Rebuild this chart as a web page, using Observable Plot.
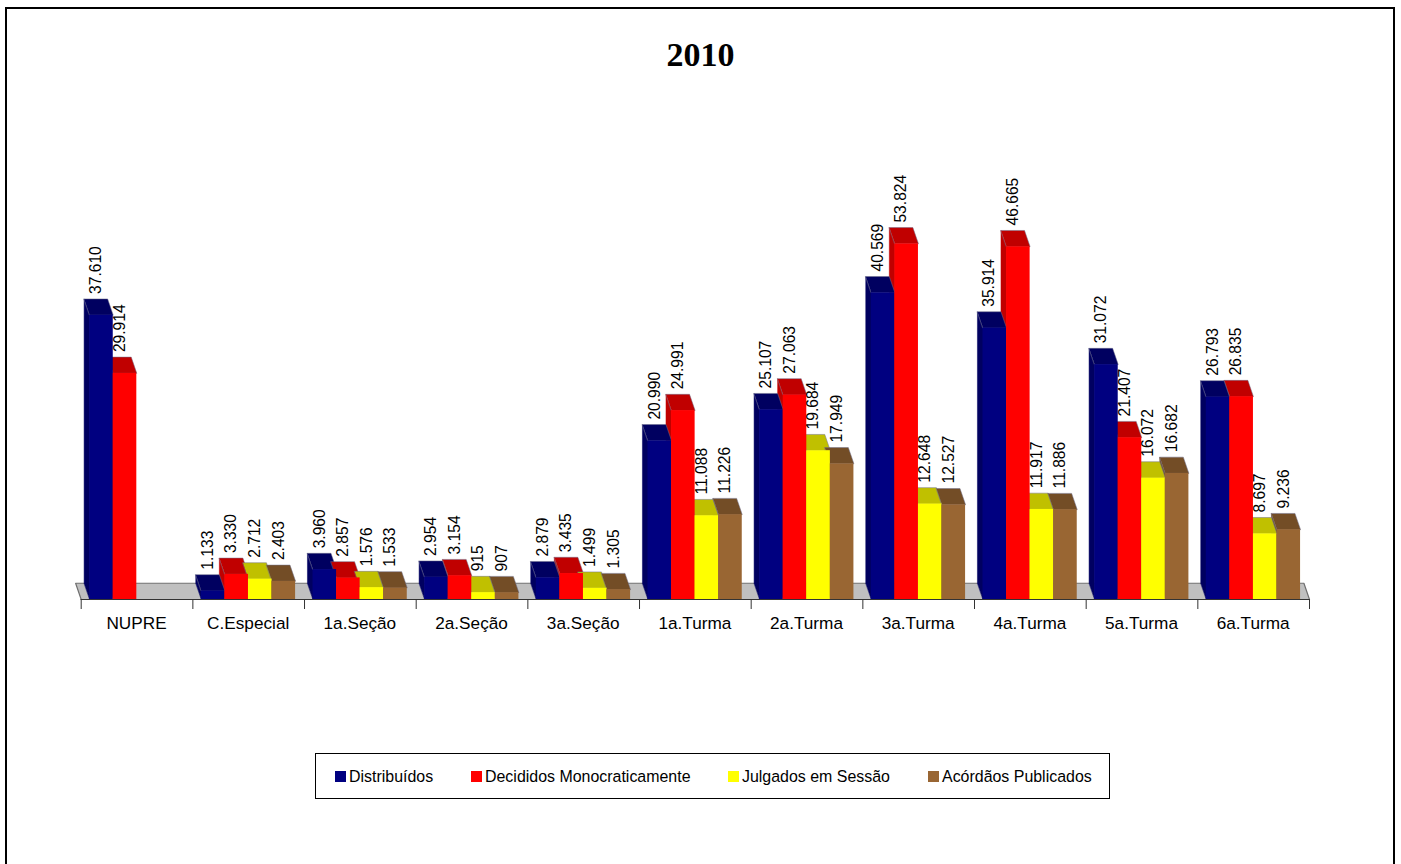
<!DOCTYPE html>
<html lang="pt">
<head>
<meta charset="utf-8">
<script src="https://cdn.jsdelivr.net/npm/d3@7"></script>
<script src="https://cdn.jsdelivr.net/npm/@observablehq/plot@0.6"></script>
<style>
  html, body { margin: 0; padding: 0; background: #fff; overflow: hidden; }
  #page { position: relative; width: 1401px; height: 864px; overflow: hidden; font-family: "Liberation Sans", Arial, sans-serif; }
  #page svg { position: absolute; left: 0; top: 0; }
  #border { position: absolute; left: 5px; top: 7px; width: 1386px; height: 900px; border: 2px solid #000; }
  #title { position: absolute; left: 0; width: 1401px; top: 35.5px; text-align: center; font: bold 34px "Liberation Serif", "Times New Roman", serif; color: #000; }
  #legend { position: absolute; left: 315px; top: 753px; width: 793px; height: 44px; border: 1px solid #000; background: #fff; }
  .item { position: absolute; top: 0; height: 44px; line-height: 46px; font-size: 15.95px; color: #000; white-space: nowrap; }
  .item i { position: absolute; left: 0; top: 17px; width: 11px; height: 11px; }
  .item span { position: absolute; left: 14px; top: 0; }
</style>
</head>
<body>
<div id="page">
  <div id="border"></div>
  <div id="title">2010</div>
  <div id="chart"></div>
  <div id="legend"></div>
</div>
<script>
const categories = ["NUPRE", "C.Especial", "1a.Seção", "2a.Seção", "3a.Seção", "1a.Turma", "2a.Turma", "3a.Turma", "4a.Turma", "5a.Turma", "6a.Turma"];
const distribuidos = [37610, 1133, 3960, 2954, 2879, 20990, 25107, 40569, 35914, 31072, 26793];
const decididos = [29914, 3330, 2857, 3154, 3435, 24991, 27063, 53824, 46665, 21407, 26835];
const julgados = [null, 2712, 1576, 915, 1499, 11088, 19684, 12648, 11917, 16072, 8697];
const acordaos = [null, 2403, 1533, 907, 1305, 11226, 17949, 12527, 11886, 16682, 9236];

const seriesNames = ["Distribuídos", "Decididos Monocraticamente", "Julgados em Sessão", "Acórdãos Publicados"];
const seriesValues = [distribuidos, decididos, julgados, acordaos];
const frontColors = ["#000080", "#ff0000", "#ffff00", "#996633"];
const shadeColors = ["#000060", "#c00000", "#c0c000", "#734d26"];
const legendLeft = [19, 155, 412, 612];

// The original chart's axis stops here: the tallest bar is cut off at it.
const axisMax = 47050;
const depthY = 2150;
const depthX = 0.05;
const groupInset = 0.076;
const barWidth = 0.211;

const fmt = d3.formatLocale({decimal: ",", thousands: ".", grouping: [3], currency: ["", ""]}).format(",d");

const bars = seriesValues.flatMap((values, s) => values.flatMap((v, i) => v == null ? [] : [{
  s, i, v,
  x1: i + groupInset + s * barWidth,
  x2: i + groupInset + (s + 1) * barWidth,
  h: Math.min(v, axisMax)
}]));

const polygons = (b) => ({
  side: [[b.x1, 0], [b.x1, b.h], [b.x1 - depthX, b.h + depthY], [b.x1 - depthX, depthY]],
  top: [[b.x1, b.h], [b.x2, b.h], [b.x2 - depthX, b.h + depthY], [b.x1 - depthX, b.h + depthY]]
});
const facePoints = (face) => bars.flatMap((b, id) =>
  polygons(b)[face].map(([x, y]) => ({x, y, id, s: b.s})));

const facesFor = (face) => shadeColors.map((color, s) => Plot.line(
  facePoints(face).filter((d) => d.s === s),
  {x: "x", y: "y", z: "id", fill: color, stroke: face === "top" ? "#6f6f8a" : color,
   strokeWidth: 0.5, curve: "linear-closed"}));

const floor = [[0, 0], [11, 0], [11 - depthX, depthY], [-depthX, depthY]].map(([x, y]) => ({x, y}));

const chart = Plot.plot({
  width: 1401,
  height: 864,
  marginLeft: 80.7,
  marginRight: 92,
  marginTop: 221,
  marginBottom: 265,
  style: {fontFamily: "Liberation Sans, Arial, sans-serif", background: "transparent", color: "#000"},
  x: {domain: [0, 11], label: null},
  y: {domain: [0, 50000], axis: null},
  marks: [
    Plot.line(floor, {x: "x", y: "y", fill: "#c0c0c0", stroke: "#707070", strokeWidth: 1.2, curve: "linear-closed"}),
    ...facesFor("side"),
    ...facesFor("top"),
    ...frontColors.map((color, s) => Plot.rect(bars.filter((b) => b.s === s),
      {x1: "x1", x2: "x2", y1: 0, y2: "h", fill: color})),
    Plot.ruleY([0], {stroke: "#333", strokeWidth: 1.2}),
    Plot.axisX({ticks: d3.range(12), tickSize: 10, tickFormat: () => "", stroke: "#333", label: null}),
    Plot.axisX({ticks: d3.range(11).map((i) => i + 0.5), tickSize: 0, tickPadding: 17.5,
      tickFormat: (t) => categories[t - 0.5], fontSize: 17.2, label: null, fill: "#000", dx: -0.5}),
    Plot.text(bars, {
      x: "x1", y: (b) => b.h + depthY, text: (b) => fmt(b.v),
      rotate: -90, textAnchor: "start", lineAnchor: "middle",
      dx: 6.5, dy: -5, fontSize: 15.6, fill: "#000"
    })
  ]
});
document.getElementById("chart").append(chart);

const legend = document.getElementById("legend");
seriesNames.forEach((name, s) => {
  const item = document.createElement("div");
  item.className = "item";
  item.style.left = legendLeft[s] + "px";
  const swatch = document.createElement("i");
  swatch.style.background = frontColors[s];
  const label = document.createElement("span");
  label.textContent = name;
  item.append(swatch, label);
  legend.append(item);
});
</script>
</body>
</html>
